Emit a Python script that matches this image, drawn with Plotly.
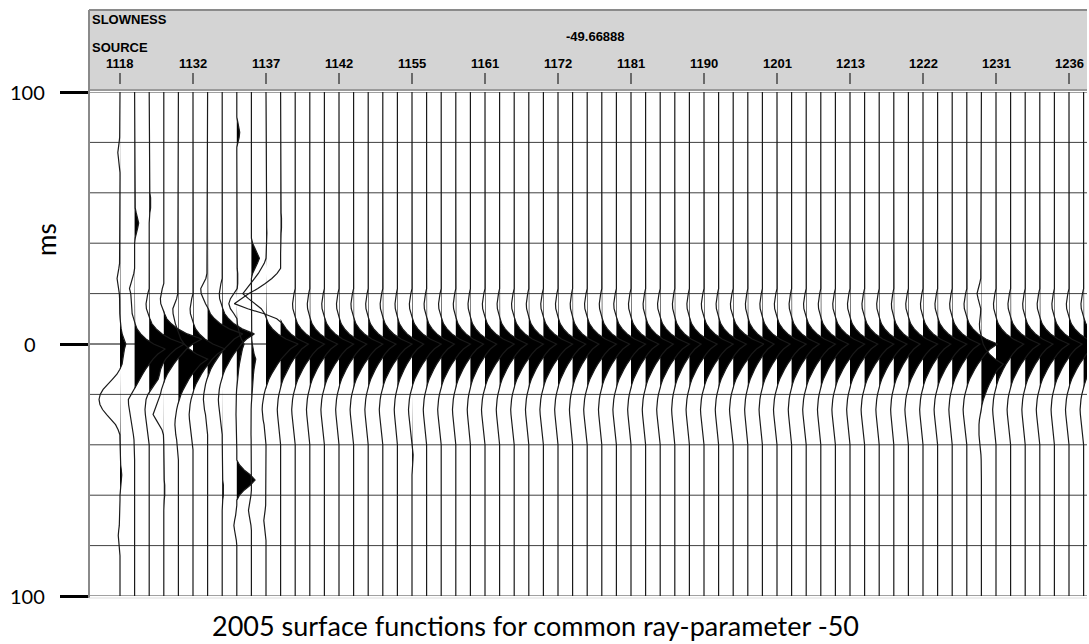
import plotly.graph_objects as go

# ---------------- data ----------------
TIME_MS = list(range(-100, 101, 2))          # sample times of every trace (ms)
SOURCE_LABELS = ["1118", "1132", "1137", "1142", "1155", "1161", "1172",
                 "1181", "1190", "1201", "1213", "1222", "1231", "1236"]
LABEL_EVERY = 5
SLOWNESS = "-49.66888"
GRID_MS = [-100, -80, -60, -40, -20, 0, 20, 40, 60, 80, 100]
Y_TICK_MS = [-100, 0, 100]
Y_TICK_TEXT = ["100", "0", "100"]

# main arrival wavelet, samples every 2 ms from -20 ms to +40 ms (peak = 1)
WAVELET_START = -20
WAVELET = [-0.04, -0.07, -0.09, -0.08, -0.04, 0.02, 0.08, 0.20, 0.37, 0.62,
           1.00, 0.76, 0.60, 0.47, 0.36, 0.26, 0.17, 0.09, 0.03, -0.02,
           -0.06, -0.09, -0.11, -0.12, -0.11, -0.09, -0.06, -0.04, -0.02, -0.01, 0.0]

# amplitude (in trace spacings) and time shift (ms) of the main arrival, per trace
MAIN_AMP = [0.4, 2.1, 2.4, 2.6, 2.0, 2.2, 2.4, 2.2, 0.5, 0.3,
            2.2, 1.9, 2.0, 1.9, 2.0, 1.9, 2.0, 1.9, 2.0, 1.8,
            2.0, 1.9, 2.0, 1.9, 1.8, 2.0, 1.9, 2.0, 1.9, 2.0,
            1.9, 1.8, 2.0, 1.9, 2.0, 1.9, 1.9, 2.0, 1.8, 1.9,
            2.0, 1.9, 2.1, 1.8, 1.9, 2.0, 1.9, 2.0, 1.9, 2.0,
            1.9, 2.0, 1.9, 1.8, 2.0, 1.9, 2.0, 1.9, 2.1, 1.5,
            1.9, 2.0, 1.9, 2.0, 1.9, 2.0, 2.0]
MAIN_SHIFT = [0, 2, 0, -2, 6, 2, -4, -4, 0, 6,
              0, 0, 0, 0, 0, 0, 0, 0, 0, 0,
              0, 0, 0, 0, 0, 0, 0, 0, 0, 0,
              0, 0, 0, 0, 0, 0, 0, 0, 0, 0,
              0, 0, 0, 0, 0, 0, 0, 0, 0, 0,
              0, 0, 0, 0, 0, 0, 0, 0, 0, 8,
              0, 0, 0, 0, 0, 0, 0]

# secondary events: pulse shapes (samples every 2 ms) and index of their peak sample
PULSES = {
    "N": ([0.35, 0.8, 1.0, 0.8, 0.35], 2),
    "M": ([0.15, 0.4, 0.75, 1.0, 0.75, 0.4, 0.15], 3),
    "W": ([0.08, 0.2, 0.4, 0.62, 0.82, 0.95, 1.0, 0.95, 0.82, 0.62, 0.4, 0.2, 0.08], 6),
    "A": ([0.08, 0.2, 0.35, 0.52, 0.7, 0.86, 1.0, 0.7, 0.35, 0.1], 6),
}
EV_TRACE = [0, 0, 0, 0, 0, 1, 1, 1, 2, 2, 3, 3, 4, 6, 7, 8, 8, 8, 8, 8,
            9, 9, 10, 10, 10, 11, 11, 20, 59]
EV_TIME = [-76, -26, 22, 52, 76, -48, -22, 22, -56, 14, 58, 28, -14, -22, 58, -84, -26, -16, 54, 72,
           -34, 66, -44, -20, 70, -48, -16, 44, -20]
EV_AMP = [-0.15, -0.2, -1.4, 0.12, -0.12, 0.28, -0.35, -0.3, 0.12, 0.4, 0.08, -0.5, -0.3, -0.3, 0.1,
          0.2, 0.08, -0.5, 1.25, -0.2, 0.55, -0.2, 0.06, -1.5, -0.15, 0.08, -3.0, 0.08, -0.3]
EV_SHAPE = ["M", "M", "W", "M", "M", "M", "M", "M", "N", "M", "N", "M", "M", "M", "N",
            "N", "N", "N", "M", "M", "M", "M", "N", "A", "M", "M", "A", "N", "M"]

N_TRACES = len(MAIN_AMP)

# ---------------- build traces ----------------
def sample_index(t):
    return (t - TIME_MS[0]) // 2

def add_pulse(arr, start_t, amp, shape):
    for k, v in enumerate(shape):
        idx = sample_index(start_t + 2 * k)
        if 0 <= idx < len(arr):
            arr[idx] += amp * v

amps = [[0.0] * len(TIME_MS) for _ in range(N_TRACES)]
for i in range(N_TRACES):
    add_pulse(amps[i], WAVELET_START + MAIN_SHIFT[i], MAIN_AMP[i], WAVELET)
for tr, tc, a, s in zip(EV_TRACE, EV_TIME, EV_AMP, EV_SHAPE):
    shp, pk = PULSES[s]
    add_pulse(amps[tr], tc - 2 * pk, a, shp)

line_x, line_y, fill_x, fill_y = [], [], [], []
for i in range(N_TRACES):
    a = amps[i]
    line_x += [i + v for v in a] + [None]
    line_y += TIME_MS + [None]
    fill_x += [i + max(v, 0.0) for v in a] + [i] * len(TIME_MS) + [None]
    fill_y += TIME_MS + TIME_MS[::-1] + [None]

# pixel geometry
W, H = 1089, 644
L, R, T, B = 89, 2, 92, 48
PW, PH = W - L - R, H - T - B
SPACING_PX = 14.6
X0 = (L - 120) / SPACING_PX
X1 = X0 + PW / SPACING_PX

def px(xp):
    return (xp - L) / PW

def py(yp):
    return (H - B - yp) / PH

fig = go.Figure()
fig.add_trace(go.Scatter(x=fill_x, y=fill_y, mode="lines", fill="toself",
                         fillcolor="black", line=dict(width=0, color="black"),
                         hoverinfo="skip", showlegend=False))
fig.add_trace(go.Scatter(x=line_x, y=line_y, mode="lines",
                         line=dict(width=1.2, color="#1a1a1a"),
                         hoverinfo="skip", showlegend=False))

shapes = []
for g in GRID_MS:
    shapes.append(dict(type="line", xref="paper", yref="y", x0=0, x1=1, y0=g, y1=g,
                       line=dict(color="black" if g == 0 else "#404040", width=1), layer="below"))
# header band
shapes.append(dict(type="rect", xref="paper", yref="paper", x0=0, x1=1, y0=py(90), y1=py(10),
                   fillcolor="#d4d4d4", line=dict(width=0), layer="below"))
shapes.append(dict(type="line", xref="paper", yref="paper", x0=0, x1=1, y0=py(10), y1=py(10),
                   line=dict(color="#8a8a8a", width=2)))
shapes.append(dict(type="line", xref="paper", yref="paper", x0=0, x1=1, y0=py(90), y1=py(90),
                   line=dict(color="#9a9a9a", width=2)))
shapes.append(dict(type="line", xref="paper", yref="paper", x0=0, x1=0, y0=py(598), y1=py(10),
                   line=dict(color="#8a8a8a", width=2)))
shapes.append(dict(type="line", xref="paper", yref="paper", x0=0, x1=1, y0=py(598), y1=py(598),
                   line=dict(color="#dddddd", width=1)))

HFONT = dict(family="Liberation Sans", size=13, color="black")
annotations = []
for k, lab in enumerate(SOURCE_LABELS):
    xi = k * LABEL_EVERY
    annotations.append(dict(x=xi, y=py(64), xref="x", yref="paper", text="<b>" + lab + "</b>",
                            showarrow=False, font=HFONT, xanchor="center", yanchor="middle"))
    shapes.append(dict(type="line", xref="x", yref="paper", x0=xi, x1=xi, y0=py(73), y1=py(84),
                       line=dict(color="black", width=1)))
annotations.append(dict(x=px(90), y=py(19), xref="paper", yref="paper", text="<b>SLOWNESS</b>",
                        showarrow=False, xanchor="left", yanchor="middle", font=HFONT))
annotations.append(dict(x=px(90), y=py(47), xref="paper", yref="paper", text="<b>SOURCE</b>",
                        showarrow=False, xanchor="left", yanchor="middle", font=HFONT))
annotations.append(dict(x=px(595), y=py(37), xref="paper", yref="paper", text="<b>" + SLOWNESS + "</b>",
                        showarrow=False, xanchor="center", yanchor="middle", font=HFONT))
# y tick labels
for tv, tt, xp in zip(Y_TICK_MS, Y_TICK_TEXT, [27, 30, 27]):
    annotations.append(dict(x=px(xp), y=tv, xref="paper", yref="y", text=tt, showarrow=False,
                            xanchor="center", yanchor="middle",
                            font=dict(family="Lato", size=20, color="black")))
annotations.append(dict(x=px(46), y=py(240), xref="paper", yref="paper", text="ms", showarrow=False,
                        textangle=-90, xanchor="center", yanchor="middle",
                        font=dict(family="Lato", size=26, color="black")))
annotations.append(dict(x=px(535), y=py(625), xref="paper", yref="paper",
                        text="2005 surface functions for common ray-parameter -50", showarrow=False,
                        xanchor="center", yanchor="middle",
                        font=dict(family="Lato", size=27, color="black")))

fig.update_layout(
    width=W, height=H, margin=dict(l=L, r=R, t=T, b=B),
    paper_bgcolor="white", plot_bgcolor="white",
    xaxis=dict(range=[X0, X1], showgrid=False, zeroline=False, showticklabels=False,
               ticks="", showline=False, fixedrange=True),
    yaxis=dict(range=[100, -100], showgrid=False, zeroline=False, showticklabels=False,
               tickmode="array", tickvals=Y_TICK_MS, ticks="outside", ticklen=28,
               tickwidth=3, tickcolor="black", showline=False, fixedrange=True),
    shapes=shapes, annotations=annotations, showlegend=False,
)
fig.write_html("out.html")
